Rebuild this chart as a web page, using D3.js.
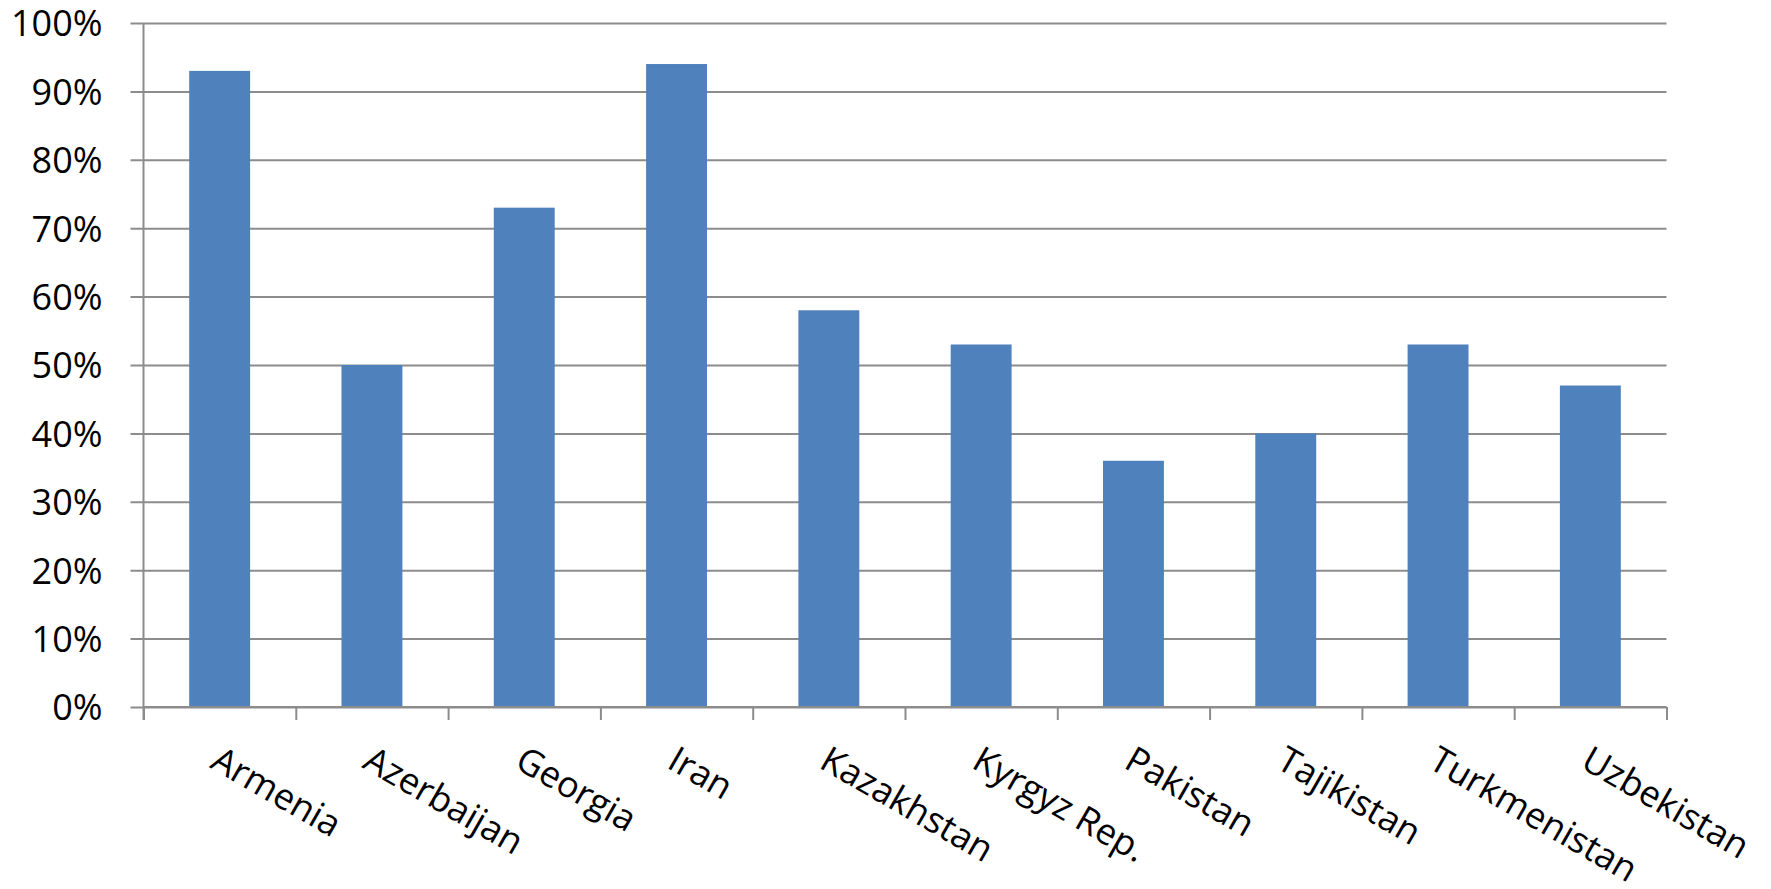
<!DOCTYPE html>
<html>
<head>
<meta charset="utf-8">
<script src="https://cdn.jsdelivr.net/npm/d3@7"></script>
<style>
  html, body { margin: 0; padding: 0; background: #fff; }
  svg { display: block; }
  text { font-family: "Open Sans", "Liberation Sans", sans-serif; fill: #000; }
</style>
</head>
<body>
<svg id="chart" width="1771" height="889"></svg>
<script>
const countries = ["Armenia", "Azerbaijan", "Georgia", "Iran", "Kazakhstan",
  "Kyrgyz Rep.", "Pakistan", "Tajikistan", "Turkmenistan", "Uzbekistan"];
const shares = [0.93, 0.50, 0.73, 0.94, 0.58, 0.53, 0.36, 0.40, 0.53, 0.47];
const yTicks = [0, 0.1, 0.2, 0.3, 0.4, 0.5, 0.6, 0.7, 0.8, 0.9, 1.0];

const plotLeft = 143.5, plotRight = 1666.5, plotTop = 23, plotBottom = 707;
const gridColor = "#8c8c8c";

const svg = d3.select("#chart");

const x = d3.scaleBand().domain(countries).range([plotLeft, plotRight]).padding(0);
const xEdge = d3.scaleLinear().domain([0, countries.length]).range([plotLeft, plotRight]);
const y = d3.scaleLinear().domain([0, 1]).range([plotBottom, plotTop]);

// gridlines + y labels (axis anchored on right so ticks span the plot)
const yAxis = svg.append("g")
  .attr("transform", `translate(${plotRight},0)`)
  .call(d3.axisLeft(y)
    .tickValues(yTicks)
    .tickSize(plotRight - plotLeft + 13)
    .tickPadding(28)
    .tickFormat(d3.format(".0%")));
yAxis.select(".domain").remove();
yAxis.selectAll(".tick line").attr("stroke", gridColor).attr("stroke-width", 2);
yAxis.selectAll(".tick text")
  .style("font-size", "36px")
  .attr("dy", "0.36em");

// bars
const barW = x.bandwidth() * 0.4;
svg.append("g")
  .selectAll("rect")
  .data(countries)
  .join("rect")
  .attr("x", (d) => x(d) + (x.bandwidth() - barW) / 2)
  .attr("y", (d, i) => y(shares[i]))
  .attr("width", barW)
  .attr("height", (d, i) => y(0) - y(shares[i]))
  .attr("fill", "#4f81bd");

// vertical axis line
svg.append("line")
  .attr("x1", plotLeft).attr("x2", plotLeft)
  .attr("y1", plotTop).attr("y2", plotBottom + 13)
  .attr("stroke", gridColor).attr("stroke-width", 2);

// category axis with boundary ticks
const xAxis = svg.append("g")
  .attr("transform", `translate(0,${plotBottom})`)
  .call(d3.axisBottom(xEdge)
    .ticks(countries.length)
    .tickSize(13)
    .tickFormat(""));
xAxis.select(".domain").attr("stroke", gridColor).attr("stroke-width", 2)
  .attr("d", `M${plotLeft},0H${plotRight}`);
xAxis.selectAll(".tick line").attr("stroke", gridColor).attr("stroke-width", 2);

// rotated category labels
svg.append("g")
  .selectAll("text")
  .data(countries)
  .join("text")
  .attr("transform", (d) => `translate(${x(d) + x.bandwidth() / 2 - 11},767) rotate(30)`)
  .attr("text-anchor", "start")
  .style("font-size", "36px")
  .text((d) => d);
</script>
</body>
</html>
